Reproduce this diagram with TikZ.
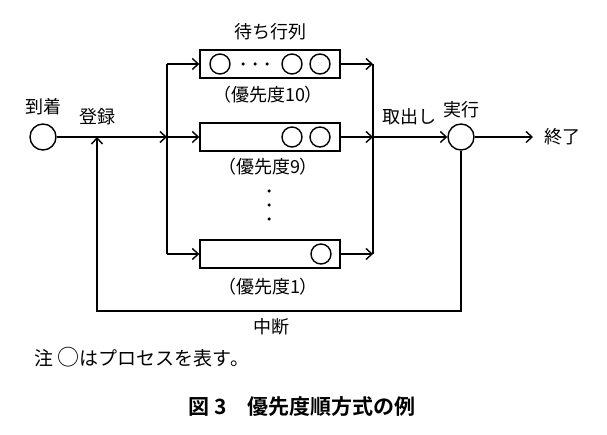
\documentclass[tikz,border=0pt]{standalone}
\usepackage{fontspec}
\setmainfont{Noto Sans CJK JP}[BoldFont={* Bold}]
\usetikzlibrary{arrows.meta}
\begin{document}
\begin{tikzpicture}[x=1pt,y=-1pt,
  line width=1.4pt,
  arr/.style={-{Straight Barb[length=6pt,width=11pt,line width=1.4pt]}},
  proc/.style={circle,draw,minimum size=26pt,inner sep=0pt},
  qbox/.style={rectangle,draw,minimum width=140pt,minimum height=28pt,inner sep=0pt},
  item/.style={circle,draw,minimum size=20pt,inner sep=0pt},
  dot/.style={circle,fill,minimum size=3.5pt,inner sep=0pt},
  lab/.style={inner sep=0pt,font=\fontsize{18}{21}\selectfont}]
\useasboundingbox (0,0) rectangle (607,435);
% main nodes
\node[proc] (a) at (43,137) {};
\node[proc] (e) at (461,137) {};
\node[qbox] (b1) at (270,64) {};
\node[qbox] (b2) at (270,137) {};
\node[qbox] (b3) at (270,254) {};
% bus coordinates
\coordinate (L1) at (167,64);
\coordinate (Lm) at (167,137);
\coordinate (L3) at (167,254);
\coordinate (R1) at (373,64);
\coordinate (R2) at (373,137);
\coordinate (R3) at (373,254);
\coordinate (J) at (97,137);
\coordinate (FB) at (97,311);
\coordinate (end) at (533,137);
% connectors
\draw[arr] (a) -- (Lm);
\draw (L1) -- (L3);
\draw[arr] (Lm) -- (b2.west);
\draw[arr] (L1) -- (b1.west);
\draw[arr] (L3) -- (b3.west);
\draw[arr] (b1.east) -- (R1);
\draw[arr] (b2.east) -- (R2);
\draw[arr] (b3.east) -- (R3);
\draw (R1) -- (R3);
\draw[arr] (R2) -- (e.west);
\draw[arr] (e.east) -- (end);
\draw[arr] (e.south) |- (FB) -- (J);
% queue contents
\node[item] (q1a) at (220,64) {};
\node[dot] (d1) at (243,64) {};
\node[dot] (d2) at (255,64) {};
\node[dot] (d3) at (267,64) {};
\node[item] (q1b) at (292,64) {};
\node[item] (q1c) at (320,64) {};
\node[item] (q2a) at (292,137) {};
\node[item] (q2b) at (320,137) {};
\node[item] (q3a) at (321,254) {};
\node[dot] (v1) at (269,191) {};
\node[dot] (v2) at (269,205) {};
\node[dot] (v3) at (269,219) {};
% labels
\node[lab] (t1) at (43,107) {到着};
\node[lab] (t2) at (97,117) {登録};
\node[lab] (t3) at (270,32) {待ち行列};
\node[lab] (t4) at (268,95) {（優先度10）};
\node[lab] (t5) at (268,167) {（優先度9）};
\node[lab] (t6) at (268,287) {（優先度1）};
\node[lab] (t7) at (409,117) {取出し};
\node[lab] (t8) at (461,110) {実行};
\node[lab] (t9) at (562,137) {終了};
\node[lab] (t10) at (271,327) {中断};
\node[lab,anchor=west,font=\fontsize{19}{22}\selectfont] (t11) at (34,357) {注 {\fontsize{22}{22}\selectfont ○}はプロセスを表す。};
\node[inner sep=0pt,font=\fontsize{21}{24}\selectfont\bfseries] (t12) at (302,407) {図 3　優先度順方式の例};
\end{tikzpicture}
\end{document}
